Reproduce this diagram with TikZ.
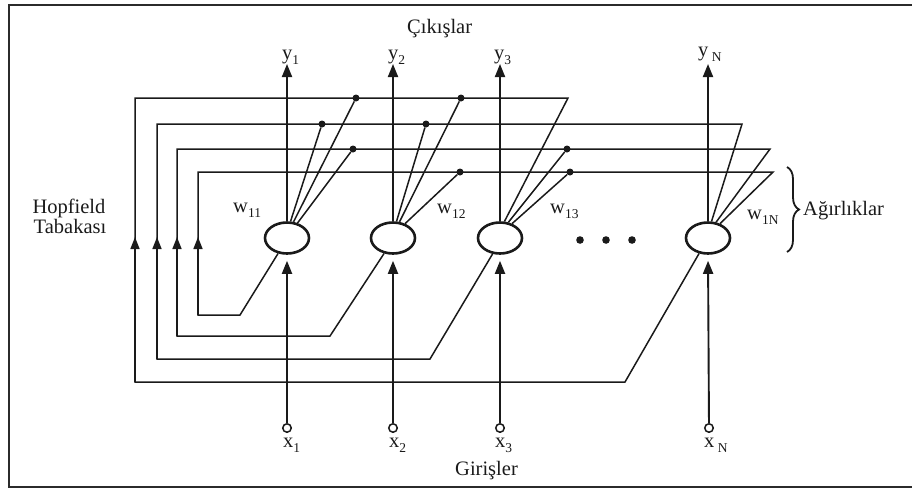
\documentclass[tikz,border=0pt]{standalone}
\usepackage{fontspec}
\setmainfont{Liberation Serif}
\usepackage{xcolor}
\usepackage{tikz}
\usetikzlibrary{shapes.geometric,arrows.meta,decorations.pathreplacing}
\definecolor{HFInk}{HTML}{1A1A1A}
\definecolor{HFFrame}{HTML}{2B2B2B}
\newcommand{\hfsub}[1]{\raisebox{-5pt}{\fontsize{13.5}{14}\selectfont #1}}

\begin{document}
\begin{tikzpicture}[x=1pt,y=-1pt,
  wire/.style={HFInk,line width=1.5pt},
  sig/.style={HFInk,line width=1.9pt,-{Triangle[length=13pt,width=10pt]}},
  fbtip/.style={HFInk,line width=1.5pt,-{Triangle[length=12pt,width=9pt]}},
  neuron/.style={ellipse,draw=HFInk,line width=2.6pt,minimum width=44pt,minimum height=31pt,inner sep=0pt},
  inport/.style={circle,draw=HFInk,line width=1.5pt,minimum size=8.5pt,inner sep=0pt},
  tap/.style={circle,fill=HFInk,minimum size=7pt,inner sep=0pt},
  lbl/.style={font=\fontsize{20.5}{22}\selectfont,text=HFInk,inner sep=0pt}]
\path[use as bounding box] (0,0) rectangle (912,488);
\draw[HFFrame,line width=2pt] (912,5) -- (9,5) -- (9,487) -- (912,487);
\node[neuron] (n1) at (287,238) {};
\node[neuron] (n2) at (393,238) {};
\node[neuron] (n3) at (500,238) {};
\node[neuron] (nN) at (708,238) {};
\node[inport] (x1) at (287,428) {};
\node[inport] (x2) at (393,428) {};
\node[inport] (x3) at (500,428) {};
\node[inport] (xN) at (709,428) {};
\coordinate (o1) at (287,64);
\coordinate (o2) at (393,64);
\coordinate (o3) at (500,64);
\coordinate (oN) at (708,64);
\foreach \n in {1,2,3,N} {
  \draw[sig] (n\n.north) -- (o\n);
  \draw[sig,shorten >=6pt] (x\n) -- (n\n.south);
}
\coordinate (a1) at (240,315); \coordinate (b1) at (198,315); \coordinate (c1) at (198,172); \coordinate (e1) at (773,172); \coordinate (m1) at (198,237);
\coordinate (a2) at (330,336); \coordinate (b2) at (177,336); \coordinate (c2) at (177,149); \coordinate (e2) at (770,149); \coordinate (m2) at (177,237);
\coordinate (a3) at (430,359); \coordinate (b3) at (157,359); \coordinate (c3) at (157,124); \coordinate (e3) at (742,124); \coordinate (m3) at (157,237);
\coordinate (aN) at (625,382); \coordinate (bN) at (135,382); \coordinate (cN) at (135,98); \coordinate (eN) at (568,98); \coordinate (mN) at (135,237);
\draw[wire] (n1.240) -- (a1) -- (b1) -- (c1) -- (e1) -- (nN.50);
\draw[wire] (n2.240) -- (a2) -- (b2) -- (c2) -- (e2) -- (nN.63);
\draw[wire] (n3.245) -- (a3) -- (b3) -- (c3) -- (e3) -- (nN.78);
\draw[wire] (nN.240) -- (aN) -- (bN) -- (cN) -- (eN) -- (n3.75);
\foreach \n in {1,2,3,N} \draw[fbtip] (b\n) -- (m\n);
\node[tap] (t12) at (460,172) {};
\node[tap] (t13) at (570,172) {};
\node[tap] (t21) at (353,149) {};
\node[tap] (t23) at (567,149) {};
\node[tap] (t31) at (322,124) {};
\node[tap] (t32) at (426,124) {};
\node[tap] (tN1) at (356,98) {};
\node[tap] (tN2) at (461,98) {};
\draw[wire] (t12) -- (n2.50);
\draw[wire] (t13) -- (n3.50);
\draw[wire] (t21) -- (n1.55);
\draw[wire] (t23) -- (n3.62);
\draw[wire] (t31) -- (n1.78);
\draw[wire] (t32) -- (n2.78);
\draw[wire] (tN1) -- (n1.68);
\draw[wire] (tN2) -- (n2.68);
\foreach \px in {580,606,632} \fill[HFInk] (\px,240) circle (3.8);
\draw[HFInk,line width=1.8pt,decorate,decoration={brace,amplitude=12pt}] (787,167) -- (787,252);
\node[lbl,anchor=base west] (lout) at (407,33) {Çıkışlar};
\node[lbl,anchor=base west] (lin) at (455,475) {Girişler};
\node[lbl,anchor=base] (lhop) at (69,213) {Hopfield};
\node[lbl,anchor=base] (ltab) at (70,233) {Tabakası};
\node[lbl,anchor=base west] (lagr) at (803,215) {Ağırlıklar};
\node[lbl,anchor=base west] (ly1) at (282,59) {y\hfsub{1}};
\node[lbl,anchor=base west] (ly2) at (388,59) {y\hfsub{2}};
\node[lbl,anchor=base west] (ly3) at (494,59) {y\hfsub{3}};
\node[lbl,anchor=base west] (lyN) at (698,56) {y\,\hfsub{N}};
\node[lbl,anchor=base west] (lx1) at (283,447) {x\hfsub{1}};
\node[lbl,anchor=base west] (lx2) at (389,447) {x\hfsub{2}};
\node[lbl,anchor=base west] (lx3) at (495,447) {x\hfsub{3}};
\node[lbl,anchor=base west] (lxN) at (704,447) {x\,\hfsub{N}};
\node[lbl,anchor=base west] (lw11) at (233,212) {w\hfsub{11}};
\node[lbl,anchor=base west] (lw12) at (437,213) {w\hfsub{12}};
\node[lbl,anchor=base west] (lw13) at (550,213) {w\hfsub{13}};
\node[lbl,anchor=base west] (lw1N) at (747,219) {w\hfsub{1N}};
\end{tikzpicture}
\end{document}
